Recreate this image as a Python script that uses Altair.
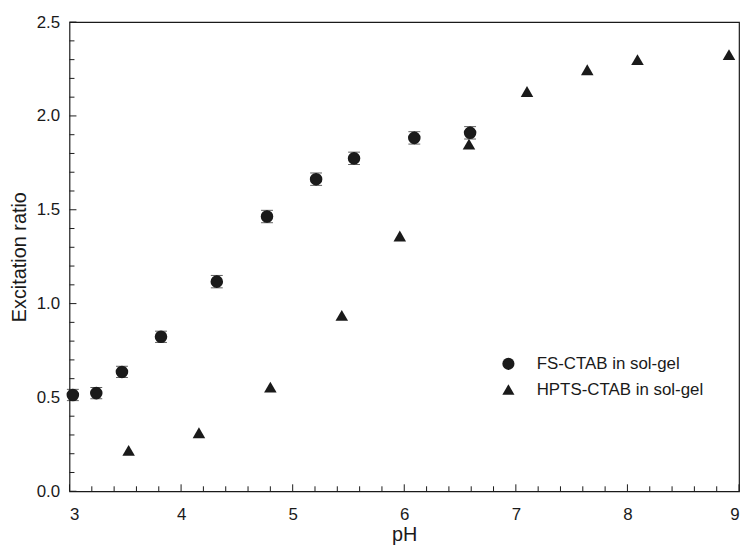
import altair as alt
import pandas as pd

# ---- data ----
fs_ph = [3.03, 3.24, 3.47, 3.82, 4.32, 4.77, 5.21, 5.55, 6.09, 6.59]
fs_ratio = [0.513, 0.523, 0.636, 0.823, 1.117, 1.464, 1.663, 1.774, 1.883, 1.910]
fs_err = [0.030, 0.030, 0.030, 0.030, 0.033, 0.033, 0.033, 0.033, 0.033, 0.033]

hpts_ph = [3.53, 4.16, 4.80, 5.44, 5.96, 6.58, 7.10, 7.64, 8.09, 8.91]
hpts_ratio = [0.218, 0.312, 0.555, 0.937, 1.360, 1.850, 2.130, 2.246, 2.300, 2.327]

series_names = ["FS-CTAB in sol-gel", "HPTS-CTAB in sol-gel"]

x_major = [3, 4, 5, 6, 7, 8, 9]
y_major = [0.0, 0.5, 1.0, 1.5, 2.0, 2.5]
x_minor = [round(3 + 0.2 * i, 1) for i in range(31) if i % 5 != 0]
y_minor = [round(0.1 * i, 1) for i in range(26) if i % 5 != 0]

W, H = 675, 473
FONT = "Liberation Sans"
INK = "#1a1a1a"

pts = pd.DataFrame(
    {
        "pH": fs_ph + hpts_ph,
        "ratio": fs_ratio + hpts_ratio,
        "series": [series_names[0]] * len(fs_ph) + [series_names[1]] * len(hpts_ph),
    }
)
err = pd.DataFrame({"pH": fs_ph, "lo": [r - e for r, e in zip(fs_ratio, fs_err)],
                    "hi": [r + e for r, e in zip(fs_ratio, fs_err)]})

xs = alt.Scale(domain=[3, 9], nice=False, zero=False)
ys = alt.Scale(domain=[0, 2.5], nice=False, zero=False)
x_axis = alt.Axis(values=x_major, ticks=False, domain=False, grid=False,
                  labelPadding=15, title="pH", titlePadding=3, format="d")
y_axis = alt.Axis(values=y_major, ticks=False, domain=False, grid=False,
                  labelPadding=10, title="Excitation ratio", titlePadding=7,
                  format=".1f")

points = alt.Chart(pts).mark_point(filled=True, opacity=1, color=INK).encode(
    x=alt.X("pH:Q", scale=xs, axis=x_axis),
    y=alt.Y("ratio:Q", scale=ys, axis=y_axis),
    shape=alt.Shape("series:N",
                    scale=alt.Scale(domain=series_names, range=["circle", "triangle-up"]),
                    legend=alt.Legend(title=None, orient="none", legendX=434, legendY=336,
                                      symbolSize=150, symbolFillColor=INK,
                                      symbolStrokeWidth=0, labelFontSize=17,
                                      labelFont=FONT, labelColor=INK, labelOffset=20,
                                      labelLimit=400, rowPadding=8)),
    size=alt.value(160),
)

bars = alt.Chart(err).mark_rule(color=INK, strokeWidth=1).encode(
    x=alt.X("pH:Q", scale=xs, axis=x_axis),
    y=alt.Y("lo:Q", scale=ys, axis=y_axis),
    y2="hi:Q",
)
cap_lo = alt.Chart(err).mark_tick(color=INK, thickness=1, size=12, orient="horizontal").encode(
    x=alt.X("pH:Q", scale=xs, axis=x_axis), y=alt.Y("lo:Q", scale=ys, axis=y_axis))
cap_hi = alt.Chart(err).mark_tick(color=INK, thickness=1, size=12, orient="horizontal").encode(
    x=alt.X("pH:Q", scale=xs, axis=x_axis), y=alt.Y("hi:Q", scale=ys, axis=y_axis))


def xticks(vals, length):
    return alt.Chart(pd.DataFrame({"v": vals})).mark_rule(color=INK, strokeWidth=1).encode(
        x=alt.X("v:Q", scale=xs, axis=x_axis), y=alt.value(H), y2=alt.value(H - length))


def yticks(vals, length):
    return alt.Chart(pd.DataFrame({"v": vals})).mark_rule(color=INK, strokeWidth=1).encode(
        y=alt.Y("v:Q", scale=ys, axis=y_axis), x=alt.value(0), x2=alt.value(length))


chart = alt.layer(
    xticks(x_major, 7), xticks(x_minor, 5), yticks(y_major, 7), yticks(y_minor, 5),
    bars, cap_lo, cap_hi, points,
).properties(
    width=W, height=H,
    autosize=alt.AutoSizeParams(type="none"),
    padding={"left": 62, "top": 12, "right": 3, "bottom": 56},
).configure_view(stroke=INK, strokeWidth=1.2).configure_axis(
    labelFont=FONT, labelFontSize=17, labelColor=INK,
    titleFont=FONT, titleFontSize=20, titleFontWeight="normal", titleColor=INK,
)

chart.save("out.html", embed_options={"renderer": "svg", "actions": False})
